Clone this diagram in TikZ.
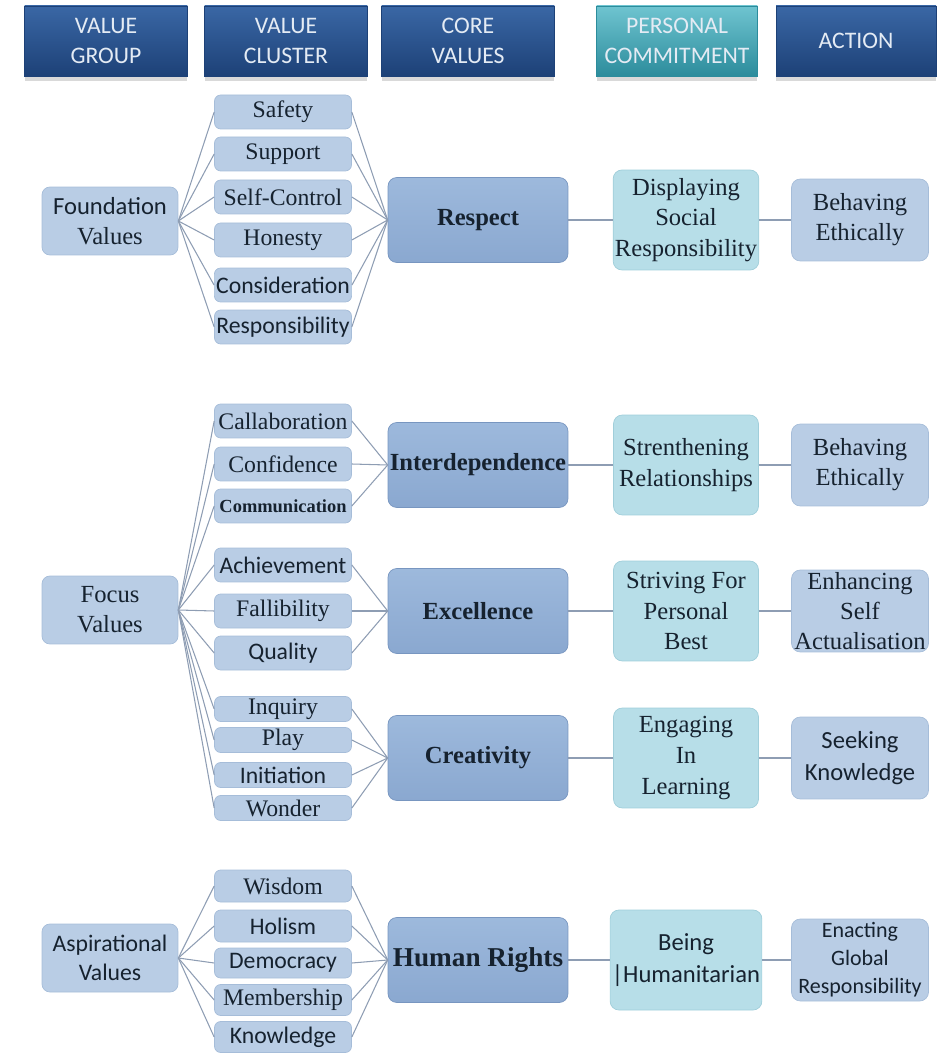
\documentclass[tikz,border=0pt]{standalone}
\usepackage{fontspec}
\setmainfont{Liberation Serif}
\newfontfamily\calib{Carlito}
\usepackage{xcolor}
\usepackage{tikz}
\usetikzlibrary{shapes,positioning,shadows}
\tikzstyle{header} = [rectangle, draw=navybot, text=headtext, align=center, minimum width=3.26cm, minimum height=1.4cm, top color=navytop, bottom color=navybot, drop shadow={opacity=0.3, shadow xshift=0pt, shadow yshift=-3pt}, font=\calib\fontsize{13.5}{17}\selectfont]
\tikzstyle{group} = [rectangle, draw=boxedge, fill=boxfill, text=inkblue, rounded corners=4.5pt, align=center, minimum width=2.72cm, minimum height=1.36cm, inner sep=1pt, font=\fontsize{14}{17}\selectfont]
\tikzstyle{cluster} = [rectangle, draw=boxedge, fill=boxfill, text=inkblue, rounded corners=3.5pt, align=center, minimum width=2.74cm, minimum height=0.68cm, inner sep=1pt, font=\fontsize{13.5}{16}\selectfont]
\tikzstyle{small} = [minimum height=0.5cm, inner sep=0pt]
\tikzstyle{core} = [rectangle, draw=coreedge, top color=coretop, bottom color=corefill, text=inkblue, rounded corners=5pt, align=center, minimum width=3.6cm, minimum height=1.7cm, inner sep=1pt, font=\bfseries\fontsize{14}{17}\selectfont]
\tikzstyle{commit} = [rectangle, draw=comedge, fill=comfill, text=inkblue, rounded corners=5pt, align=center, minimum width=2.9cm, minimum height=2cm, inner sep=1pt, font=\fontsize{14}{17.5}\selectfont]
\tikzstyle{action} = [rectangle, draw=boxedge, fill=boxfill, text=inkblue, rounded corners=5pt, align=center, minimum width=2.74cm, minimum height=1.64cm, inner sep=1pt, font=\fontsize{14}{17}\selectfont]
\tikzstyle{sans} = [font=\calib\fontsize{13.5}{16.5}\selectfont]
\tikzstyle{link} = [draw=linkgray, line width=0.6pt]
\definecolor{navytop}{HTML}{3A67A5}
\definecolor{navybot}{HTML}{1D4177}
\definecolor{tealtop}{HTML}{6FC4D0}
\definecolor{tealbot}{HTML}{2C8C9C}
\definecolor{headtext}{HTML}{E4EBF4}
\definecolor{boxfill}{HTML}{B9CDE5}
\definecolor{boxedge}{HTML}{A6BDD9}
\definecolor{coretop}{HTML}{9DB9DC}
\definecolor{corefill}{HTML}{8AA8D0}
\definecolor{coreedge}{HTML}{7896C0}
\definecolor{comfill}{HTML}{B7DEE8}
\definecolor{comedge}{HTML}{A0CEDA}
\definecolor{inkblue}{HTML}{16222F}
\definecolor{linkgray}{HTML}{8E9DB3}

\begin{document}
\begin{tikzpicture}[x=0.02cm, y=-0.02cm]
	\useasboundingbox (0,0) rectangle (950,1053);
	% column titles
	\node[header] (hgroup) at (106,41) {VALUE\\GROUP};
	\node[header] (hcluster) at (286,41) {VALUE\\CLUSTER};
	\node[header, minimum width=3.46cm] (hcore) at (468,41) {CORE\\VALUES};
	\node[header, minimum width=3.22cm, top color=tealtop, bottom color=tealbot, draw=tealbot] (hcommit) at (677,41) {PERSONAL\\COMMITMENT};
	\node[header, minimum width=3.2cm] (haction) at (856,41) {ACTION};

	% foundation values
	\node[group] (fnd) at (110,221) {{\calib Foundation}\\Values};
	\node[cluster] (safety) at (283,112) {Safety};
	\node[cluster] (support) at (283,154) {Support};
	\node[cluster] (selfctl) at (283,197) {Self-Control};
	\node[cluster] (honesty) at (283,240) {Honesty};
	\node[cluster, sans] (consid) at (283,285) {Consideration};
	\node[cluster, sans] (respons) at (283,327) {Responsibility};
	\node[core] (respect) at (478,220) {Respect};
	\node[commit] (display) at (686,220) {Displaying\\Social\\Responsibility};
	\node[action] (ethic1) at (860,220) {Behaving\\Ethically};
	\foreach \c in {safety,support,selfctl,honesty,consid,respons}{
		\draw[link] (fnd.east) -- (\c.west);
		\draw[link] (\c.east) -- (respect.west);
	}
	\draw[link] (respect) -- (display) -- (ethic1);

	% focus values
	\node[group] (focus) at (110,610) {Focus\\Values};
	\node[cluster] (collab) at (283,421) {Callaboration};
	\node[cluster] (confid) at (283,464) {Confidence};
	\node[cluster, font=\bfseries\fontsize{10.5}{12}\selectfont] (commun) at (283,506) {Communication};
	\node[cluster, sans] (achieve) at (283,565) {Achievement};
	\node[cluster] (fallib) at (283,611) {Fallibility};
	\node[cluster, sans] (quality) at (283,653) {Quality};
	\node[cluster, small] (inquiry) at (283,709) {Inquiry};
	\node[cluster, small] (play) at (283,740) {Play};
	\node[cluster, small, sans] (initia) at (283,775) {Initiation};
	\node[cluster, small] (wonder) at (283,808) {Wonder};
	\node[core] (interdep) at (478,465) {Interdependence};
	\node[core] (excel) at (478,611) {Excellence};
	\node[core] (creat) at (478,758) {Creativity};
	\node[commit] (strengthen) at (686,465) {Strenthening\\Relationships};
	\node[commit] (striving) at (686,611) {Striving For\\Personal\\Best};
	\node[commit] (engaging) at (686,758) {Engaging\\In\\Learning};
	\node[action] (ethic2) at (860,465) {Behaving\\Ethically};
	\node[action] (enhance) at (860,611) {Enhancing\\Self\\Actualisation};
	\node[action, sans, font=\calib\fontsize{14}{18}\selectfont] (seeking) at (860,758) {Seeking\\Knowledge};
	\foreach \c in {collab,confid,commun,achieve,fallib,quality,inquiry,play,initia,wonder}
		\draw[link] (focus.east) -- (\c.west);
	\foreach \c in {collab,confid,commun}
		\draw[link] (\c.east) -- (interdep.west);
	\foreach \c in {achieve,fallib,quality}
		\draw[link] (\c.east) -- (excel.west);
	\foreach \c in {inquiry,play,initia,wonder}
		\draw[link] (\c.east) -- (creat.west);
	\draw[link] (interdep) -- (strengthen) -- (ethic2);
	\draw[link] (excel) -- (striving) -- (enhance);
	\draw[link] (creat) -- (engaging) -- (seeking);

	% aspirational values
	\node[group, sans] (aspire) at (110,958) {Aspirational\\Values};
	\node[cluster, minimum height=0.64cm] (wisdom) at (283,886) {Wisdom};
	\node[cluster, sans, minimum height=0.64cm] (holism) at (283,926) {Holism};
	\node[cluster, sans, minimum height=0.6cm] (democ) at (283,963) {Democracy};
	\node[cluster, minimum height=0.62cm] (member) at (283,1000) {Membership};
	\node[cluster, sans, minimum height=0.62cm] (knowl) at (283,1037) {Knowledge};
	\node[core, font=\bfseries\fontsize{15.5}{18}\selectfont] (rights) at (478,960) {Human Rights};
	\node[commit, sans, font=\calib\fontsize{14}{18}\selectfont] (being) at (686,960) {Being\\|Humanitarian};
	\node[action, sans, font=\calib\fontsize{12.5}{16}\selectfont] (enact) at (860,960) {Enacting\\Global\\Responsibility};
	\foreach \c in {wisdom,holism,democ,member,knowl}{
		\draw[link] (aspire.east) -- (\c.west);
		\draw[link] (\c.east) -- (rights.west);
	}
	\draw[link] (rights) -- (being) -- (enact);
\end{tikzpicture}
\end{document}
